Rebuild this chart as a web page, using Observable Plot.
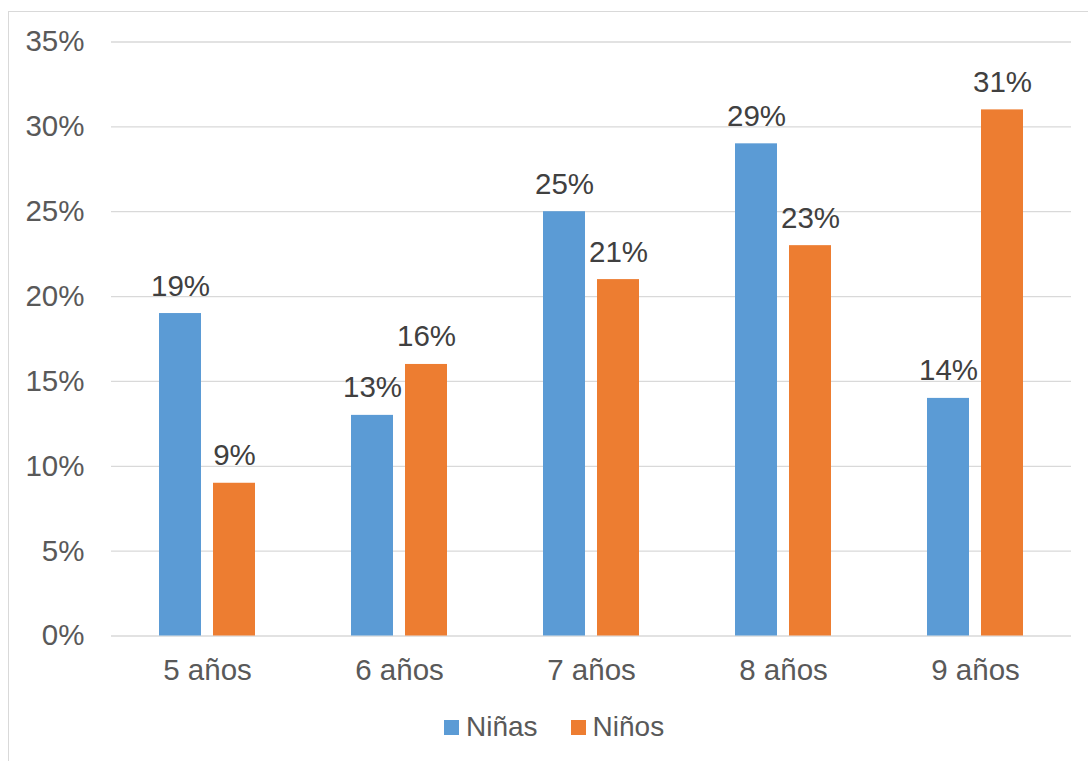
<!DOCTYPE html>
<html>
<head>
<meta charset="utf-8">
<script src="https://cdn.jsdelivr.net/npm/d3@7"></script>
<script src="https://cdn.jsdelivr.net/npm/@observablehq/plot@0.6"></script>
<style>
  html, body { margin: 0; padding: 0; background: #fff; }
  #wrap { position: relative; width: 1088px; height: 761px; overflow: hidden; font-family: "Liberation Sans", Arial, sans-serif; }
  #frame { position: absolute; left: 8px; top: 11px; width: 1200px; height: 900px; border: 1px solid #d9d9d9; box-sizing: border-box; }
  #chart { position: absolute; left: 0; top: 0; }
  #legend { position: absolute; left: 444px; top: 711px; display: flex; align-items: center; font-size: 28px; color: #595959; }
  #legend .item { display: flex; align-items: center; }
  #legend .sw { width: 15px; height: 15px; margin-right: 7px; }
</style>
</head>
<body>
<div id="wrap">
  <div id="frame"></div>
  <div id="chart"></div>
  <div id="legend"></div>
</div>
<script>
// Age groups and share of each group, per series
const ages = ["5 años", "6 años", "7 años", "8 años", "9 años"];
const series = ["Niñas", "Niños"];
const ninas = [0.19, 0.13, 0.25, 0.29, 0.14];
const ninos = [0.09, 0.16, 0.21, 0.23, 0.31];
const yTicks = [0, 0.05, 0.10, 0.15, 0.20, 0.25, 0.30, 0.35];
const colors = ["#5B9BD5", "#ED7D31"];

const rows = [];
ages.forEach((age, i) => {
  rows.push({age, serie: series[0], value: ninas[i]});
  rows.push({age, serie: series[1], value: ninos[i]});
});

const pct = d3.format(".0%");

const chart = Plot.plot({
  width: 1088,
  height: 700,
  marginTop: 41.5,
  marginBottom: 64.5,
  marginLeft: 110,
  marginRight: 17,
  style: {fontFamily: "'Liberation Sans', Arial, sans-serif", fontSize: "29.5px", color: "#595959", background: "transparent"},
  facet: {data: rows, x: "age"},
  fx: {domain: ages, padding: 0, label: null, tickSize: 0, tickPadding: 23.5},
  x: {domain: series, paddingInner: 0.2182, paddingOuter: 0.8564, axis: null},
  y: {domain: [0, 0.35], ticks: yTicks, tickFormat: pct, tickSize: 0, tickPadding: 27, label: null},
  color: {domain: series, range: colors},
  marks: [
    Plot.ruleY(yTicks, {stroke: "#d9d9d9", strokeWidth: 1.3}),
    Plot.barY(rows, {x: "serie", y: "value", fill: "serie"}),
    Plot.text(rows, {x: "serie", y: "value", text: d => pct(d.value), lineAnchor: "bottom", dy: -18, fill: "#404040", fontSize: 29.5})
  ]
});
document.getElementById("chart").appendChild(chart);

// Legend below the plot
const legend = document.getElementById("legend");
series.forEach((s, i) => {
  const item = document.createElement("div");
  item.className = "item";
  item.style.marginRight = i === 0 ? "33px" : "0";
  const sw = document.createElement("span");
  sw.className = "sw";
  sw.style.background = colors[i];
  const label = document.createElement("span");
  label.textContent = s;
  item.appendChild(sw);
  item.appendChild(label);
  legend.appendChild(item);
});
</script>
</body>
</html>
